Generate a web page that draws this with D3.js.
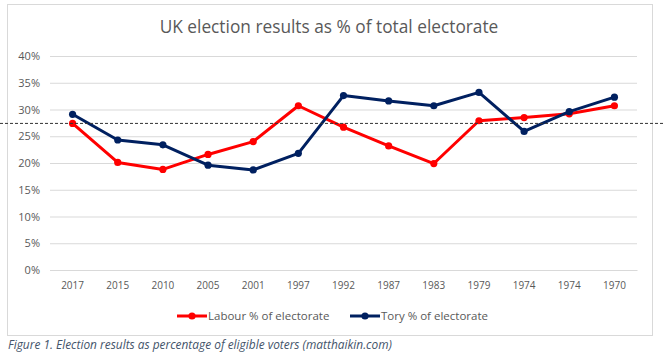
<!DOCTYPE html>
<html><head><meta charset="utf-8">
<script src="https://cdn.jsdelivr.net/npm/d3@7/dist/d3.min.js"></script>
<style>
body{margin:0;background:#fff;}
svg{display:block;font-family:"Open Sans","Liberation Sans",sans-serif;}
</style></head>
<body>
<svg id="chart" width="663" height="355"></svg>
<script>
const categories = ["2017","2015","2010","2005","2001","1997","1992","1987","1983","1979","1974","1974","1970"];
const labour = [27.4,20.1,18.8,21.6,24.0,30.7,26.7,23.2,19.9,27.9,28.5,29.2,30.7];
const tory   = [29.1,24.3,23.4,19.6,18.7,21.8,32.6,31.6,30.7,33.2,25.9,29.6,32.3];
const yTicks = [0,5,10,15,20,25,30,35,40];
const referenceLevel = 27.4;
const seriesNames = ["Labour % of electorate","Tory % of electorate"];

const svg = d3.select("#chart");
const W = 663, H = 355;
const plot = {left:50, right:637, top:56, bottom:270};

// chart frame
svg.append("rect").attr("x",7.5).attr("y",4.5).attr("width",645).attr("height",331)
  .attr("fill","#fff").attr("stroke","#d9d9d9").attr("stroke-width",1);

const x = d3.scaleBand().domain(d3.range(categories.length)).range([plot.left, plot.right]);
const y = d3.scaleLinear().domain([0,40]).range([plot.bottom, plot.top]);

// title
svg.append("text").attr("x",329).attr("y",33).attr("text-anchor","middle")
  .attr("font-size",17.3).attr("fill","#595959").text("UK election results as % of total electorate");

// gridlines + y axis
const yAxis = d3.axisLeft(y).tickValues(yTicks).tickFormat(d=>d+"%").tickSize(-(plot.right-plot.left)).tickPadding(10);
const gy = svg.append("g").attr("transform",`translate(${plot.left},0)`).call(yAxis);
gy.select(".domain").remove();
gy.selectAll(".tick line").attr("stroke","#d9d9d9").attr("stroke-width",1);
gy.selectAll(".tick text").attr("fill","#595959").attr("font-size",11).attr("font-family","Open Sans, sans-serif");

// x axis
const xAxis = d3.axisBottom(x).tickFormat(i=>categories[i]).tickSize(0).tickPadding(12);
const gx = svg.append("g").attr("transform",`translate(0,${plot.bottom})`).call(xAxis);
gx.select(".domain").attr("stroke","#d9d9d9");
gx.selectAll(".tick text").attr("fill","#595959").attr("font-size",10).attr("font-family","Open Sans, sans-serif");

const cx = i => x(i) + x.bandwidth()/2;
const line = d3.line().x((d,i)=>cx(i)).y(d=>y(d));

const series = [{name:seriesNames[0], values:labour, color:"#ff0000"},
                {name:seriesNames[1], values:tory, color:"#002060"}];

series.forEach(s=>{
  const g = svg.append("g");
  g.append("path").datum(s.values).attr("d",line).attr("fill","none")
    .attr("stroke",s.color).attr("stroke-width",3).attr("stroke-linejoin","round");
  g.selectAll("circle").data(s.values).join("circle")
    .attr("cx",(d,i)=>cx(i)).attr("cy",d=>y(d)).attr("r",3.6).attr("fill",s.color);
});

// dashed reference line
svg.append("line").attr("x1",0).attr("x2",W).attr("y1",y(referenceLevel)).attr("y2",y(referenceLevel))
  .attr("stroke","#333").attr("stroke-width",1).attr("stroke-dasharray","3,2");

// legend
const legendItems = [{x:177, tx:207}, {x:350, tx:381}];
series.forEach((s,k)=>{
  const L = legendItems[k];
  const ly = 316;
  svg.append("line").attr("x1",L.x).attr("x2",L.x+30).attr("y1",ly).attr("y2",ly)
    .attr("stroke",s.color).attr("stroke-width",3);
  svg.append("circle").attr("cx",L.x+15).attr("cy",ly).attr("r",3.6).attr("fill",s.color);
  svg.append("text").attr("x",L.x+31).attr("y",ly+4).attr("font-size",11.5).attr("fill","#595959").text(s.name);
});

// caption
svg.append("text").attr("x",8).attr("y",349).attr("font-size",11.9).attr("font-style","italic")
  .attr("fill","#44546a").text("Figure 1. Election results as percentage of eligible voters (matthaikin.com)");
</script>
</body></html>
